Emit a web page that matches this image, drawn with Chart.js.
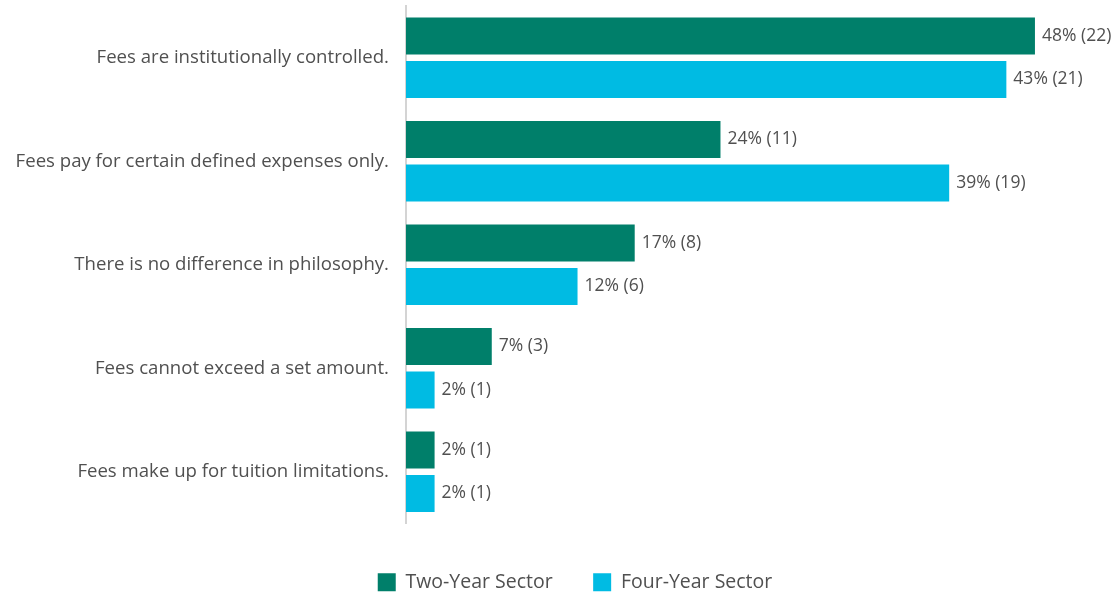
<!DOCTYPE html>
<html>
<head>
<meta charset="utf-8">
<script src="https://cdn.jsdelivr.net/npm/chart.js@4"></script>
<style>
  html, body { margin: 0; padding: 0; background: #fff; }
  #wrap { width: 1115px; height: 593px; }
</style>
</head>
<body>
<div id="wrap"><canvas id="feesChart"></canvas></div>
<script>
// Datos de la gráfica
const categorias = [
    'Fees are institutionally controlled.',
    'Fees pay for certain defined expenses only.',
    'There is no difference in philosophy.',
    'Fees cannot exceed a set amount.',
    'Fees make up for tuition limitations.'
];
const conteoDosAnios = [22, 11, 8, 3, 1];
const conteoCuatroAnios = [21, 19, 6, 1, 1];
const pctDosAnios = [48, 24, 17, 7, 2];
const pctCuatroAnios = [43, 39, 12, 2, 2];
const porcentajes = [pctDosAnios, pctCuatroAnios];

const fuente = '"Open Sans", sans-serif';
const gris = '#505050';

// Etiquetas al final de cada barra: "48% (22)"
const etiquetasBarras = {
    id: 'etiquetasBarras',
    afterDatasetsDraw(chart) {
        const c = chart.ctx;
        c.save();
        c.font = '17.5px ' + fuente;
        c.fillStyle = gris;
        c.textBaseline = 'middle';
        c.textAlign = 'left';
        chart.data.datasets.forEach((ds, i) => {
            chart.getDatasetMeta(i).data.forEach((bar, j) => {
                c.fillText(porcentajes[i][j] + '% (' + ds.data[j] + ')', bar.x + 7, bar.y);
            });
        });
        c.restore();
    }
};

const ctx = document.getElementById('feesChart').getContext('2d');

const feesChart = new Chart(ctx, {
    type: 'bar',
    data: {
        labels: categorias,
        datasets: [{
            label: 'Two-Year Sector',
            data: conteoDosAnios,
            backgroundColor: '#007F6A'
        }, {
            label: 'Four-Year Sector',
            data: conteoCuatroAnios,
            backgroundColor: '#00BBE3'
        }]
    },
    options: {
        indexAxis: 'y',
        responsive: true,
        maintainAspectRatio: false,
        animation: false,
        datasets: {
            bar: {
                categoryPercentage: 0.84,
                barPercentage: 0.85
            }
        },
        layout: {
            padding: { top: 6, right: -35, left: 0, bottom: -9 }
        },
        scales: {
            x: {
                min: 0,
                max: 24.8,
                grid: { display: false },
                border: { display: false },
                ticks: { display: false },
                afterFit(s) { s.height = 44; }
            },
            y: {
                grid: { display: false },
                border: { display: true, color: '#d4d4d4', width: 2 },
                ticks: {
                    color: gris,
                    padding: 9,
                    font: { family: fuente, size: 18.6 }
                },
                afterFit(s) {
                    s.width = 406;
                    s.paddingTop = 0;
                    s.paddingBottom = 0;
                }
            }
        },
        plugins: {
            tooltip: { enabled: false },
            legend: {
                position: 'bottom',
                labels: {
                    boxWidth: 18,
                    boxHeight: 18,
                    padding: 5,
                    color: gris,
                    font: { family: fuente, size: 19.5 },
                    generateLabels(chart) {
                        const items = Chart.defaults.plugins.legend.labels.generateLabels(chart);
                        items.forEach(it => { it.lineWidth = 0; });
                        items[0].text = items[0].text + '\u00A0\u00A0\u00A0\u00A0\u00A0\u00A0\u00A0';
                        return items;
                    }
                }
            }
        }
    },
    plugins: [etiquetasBarras]
});
</script>
</body>
</html>
